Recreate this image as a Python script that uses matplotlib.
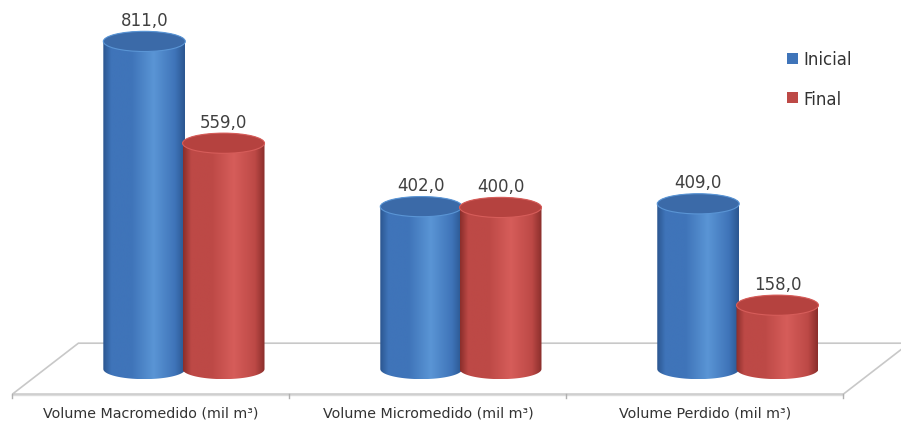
import numpy as np
import matplotlib
matplotlib.use("Agg")
import matplotlib.pyplot as plt
from matplotlib.patches import Ellipse, PathPatch, Polygon, Patch
from matplotlib.path import Path
from matplotlib.colors import to_rgb

# data
categories = ["Volume Macromedido (mil m\u00b3)",
              "Volume Micromedido (mil m\u00b3)",
              "Volume Perdido (mil m\u00b3)"]
series_names = ["Inicial", "Final"]
inicial = [811.0, 402.0, 409.0]
final = [559.0, 400.0, 158.0]

plt.rcParams['font.family'] = ['DejaVu Sans']

# color stops for the shaded cylinder bodies: dark edge, mid, light
blue_stops = ['#2b5690', '#3f74b9', '#5a95d5']
red_stops = ['#8a2e2b', '#bd4946', '#d65d5a']
blue_top = '#3b6aa8'
red_top = '#b5423f'

r = 0.148          # cylinder radius (x units)
b = 25.0           # half-height of the ellipses (value units)
depth = 0.119      # depth offset of the bars on the floor
off = 0.143        # spacing of the two series inside a group


def body_profile(stops, n=200):
    t = np.linspace(0, 1, n)
    dark, mid, light = [np.array(to_rgb(c)) for c in stops]
    pos = [0.0, 0.1, 0.35, 0.62, 0.88, 1.0]
    cols = [dark, mid, mid, light, mid, dark]
    img = np.zeros((1, n, 3))
    for k in range(3):
        img[0, :, k] = np.interp(t, pos, [c[k] for c in cols])
    return img


def cylinder(ax, cx, val, stops, top_col, z):
    # outline of body: left side, bottom front arc, right side, top front arc
    th_bot = np.linspace(np.pi, 2 * np.pi, 60)
    th_top = np.linspace(0, np.pi, 60)
    verts = [(cx - r, val), (cx - r, 0)]
    verts += list(zip(cx + r * np.cos(th_bot), b * np.sin(th_bot)))
    verts += [(cx + r, val)]
    verts += list(zip(cx + r * np.cos(th_top), val + b * np.sin(th_top)))
    verts += [(cx - r, val)]
    path = Path(verts, closed=True)
    clip = PathPatch(path, facecolor='none', edgecolor='none', zorder=z)
    ax.add_patch(clip)
    im = ax.imshow(body_profile(stops), extent=[cx - r, cx + r, -b, val + b],
                   aspect='auto', interpolation='bilinear', zorder=z)
    im.set_clip_path(clip)
    top = Ellipse((cx, val), 2 * r, 2 * b, facecolor=top_col,
                  edgecolor=stops[2], lw=0.8, zorder=z + 0.1)
    ax.add_patch(top)
    ax.text(cx, val + b + 28, f"{val:.1f}".replace('.', ','), ha='center',
            va='center', fontsize=12, color='#404040', zorder=z + 0.2)


fig = plt.figure(figsize=(9.01, 4.27), dpi=100)
ax = fig.add_axes([0, 0, 1, 1])
ax.set_xlim(-0.545, 2.708)
ax.set_ylim(-141, 916)
ax.axis('off')

# floor of the 3D plot
n = len(categories)
y_front, y_back = -62, 64
dx_back = 2 * depth
floor = Polygon([(-0.5, y_front), (n - 0.5, y_front),
                 (n - 0.5 + dx_back, y_back), (-0.5 + dx_back, y_back)],
                closed=True, facecolor='white', edgecolor='#c8c8c8', lw=1.2,
                zorder=1)
ax.add_patch(floor)
ax.plot([-0.5, n - 0.5], [y_front - 3, y_front - 3], color='#dcdcdc', lw=1.0,
        zorder=1)
for i in range(n + 1):
    ax.plot([i - 0.5, i - 0.5], [y_front, y_front - 10], color='#b0b0b0',
            lw=1.0, zorder=1)

for i in range(n):
    cx = i + depth
    cylinder(ax, cx - off, inicial[i], blue_stops, blue_top, 3 + i)
    cylinder(ax, cx + off, final[i], red_stops, red_top, 3.5 + i)
    ax.text(i, -108, categories[i], ha='center', va='center', fontsize=10.3,
            color='#333333')

handles = [Patch(facecolor=blue_stops[1], edgecolor='none'),
           Patch(facecolor=red_stops[1], edgecolor='none')]
ax.legend(handles, series_names, loc='upper left',
          bbox_to_anchor=(0.864, 0.9), frameon=False, fontsize=12,
          handlelength=0.65, handleheight=0.65, handletextpad=0.35,
          labelspacing=1.3, borderpad=0, labelcolor='#333333')

fig.savefig('out.png', dpi=100)
